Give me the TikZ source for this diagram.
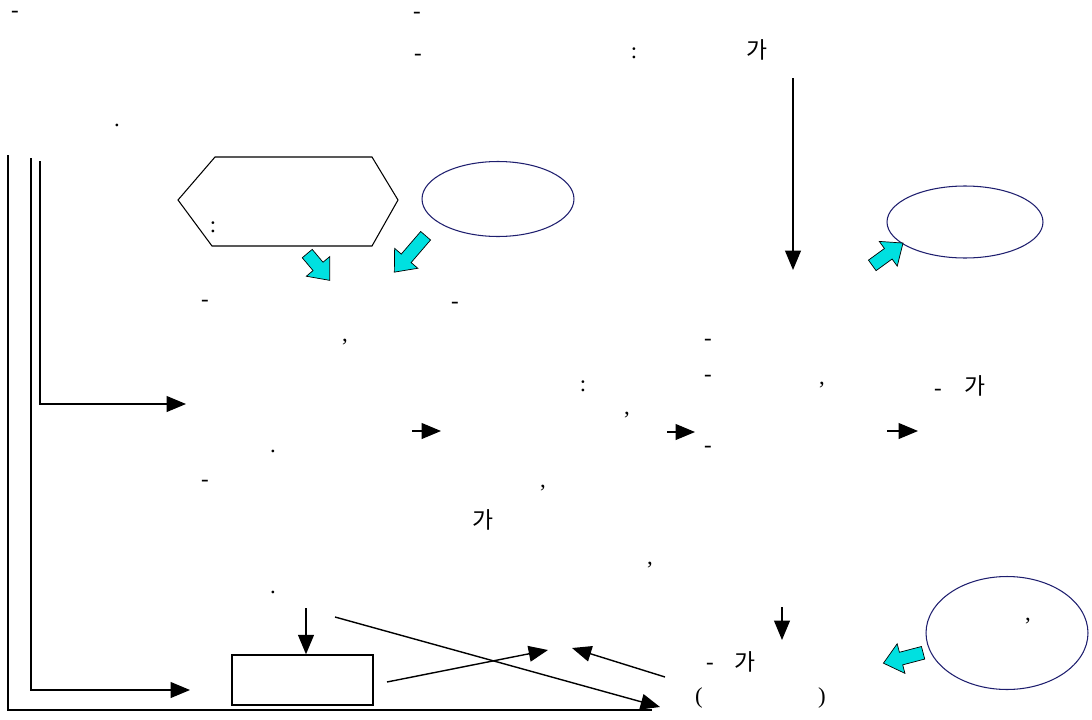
\documentclass[tikz,border=0pt]{standalone}
\usepackage{fontspec}
\setmainfont{Liberation Serif}
\newfontfamily\krfont{Noto Sans CJK KR}
\usetikzlibrary{arrows.meta,shapes.geometric,shapes.arrows,positioning,calc}
\definecolor{turq}{RGB}{0,224,224}
\definecolor{navy}{RGB}{30,30,110}

\begin{document}
\begin{tikzpicture}[x=0.02cm,y=-0.02cm,line width=0.8pt,
  txt/.style={font=\fontsize{13}{15}\selectfont,inner sep=0pt},
  kr/.style={font=\krfont\fontsize{13}{15}\selectfont,inner sep=0pt},
  arr/.style={-{Triangle[length=11pt,width=9pt]}},
  bubble/.style={ellipse,draw=navy,line width=0.6pt,inner sep=0pt},
  fatarrow/.style={single arrow,draw=black,fill=turq,line width=0.4pt,inner xsep=0pt,inner ysep=3.5pt,single arrow head extend=5pt,single arrow tip angle=80}]
\useasboundingbox (0,0) rectangle (1092,720);
% Top text marks
\node[txt] (d1) at (15,14) {-};
\node[txt] (d2) at (417,15) {-};
\node[txt] (d3) at (418,57) {-};
\node[txt] (c1) at (634,53) {:};
\node[kr] (k1) at (757,50) {가};
\node[txt] (p1) at (117,125) {.};
% Hexagon and bubbles
\draw[line width=0.6pt] (178,200) -- (215,157) -- (372,157) -- (398,200) -- (372,246) -- (212,246) -- cycle;
\node[txt] (c2) at (213,227) {:};
\node[bubble,minimum width=3.04cm,minimum height=1.5cm] (ell1) at (498,199) {};
\node[bubble,minimum width=3.12cm,minimum height=1.44cm] (ell2) at (965,222) {};
\node[bubble,minimum width=3.24cm,minimum height=2.26cm] (ell3) at (1007,633) {};
% Cyan block arrows
\node[fatarrow,rotate=-50,minimum height=0.7cm] (fa1) at (316,264) {};
\node[fatarrow,rotate=-130.7,minimum height=0.96cm] (fa2) at (412.5,251) {};
\node[fatarrow,rotate=36,minimum height=0.76cm] (fa3) at (884.5,256.5) {};
\node[fatarrow,rotate=194.7,minimum height=0.82cm] (fa4) at (907,657) {};
% Long down arrow
\coordinate (vtop) at (793,78);
\coordinate (vbot) at (793,270);
\draw[arr] (vtop) -- (vbot);
% Middle text marks
\node[txt] (d4) at (205,303) {-};
\node[txt] (d5) at (455,305) {-};
\node[txt] (m1) at (345,342) {,};
\node[txt] (d6) at (708,342) {-};
\node[txt] (c3) at (583,386) {:};
\node[txt] (d7) at (708,378) {-};
\node[txt] (m2) at (822,385) {,};
\node[txt] (d8) at (938,392) {-};
\node[kr] (k2) at (975,386) {가};
\node[txt] (m3) at (627,415) {,};
\node[txt] (p2) at (273,451) {.};
\node[txt] (d9) at (708,449) {-};
\node[txt] (d10) at (205,483) {-};
\node[txt] (m4) at (543,488) {,};
\node[kr] (k3) at (483,520) {가};
\node[txt] (m5) at (650,565) {,};
\node[txt] (p3) at (273,592) {.};
\node[txt] (m6) at (1028,621) {,};
\node[txt] (d11) at (710,666) {-};
\node[kr] (k4) at (745,662) {가};
\node[txt] (o1) at (699,698) {(};
\node[txt] (o2) at (822,698) {)};
% Short step arrows
\foreach \xa/\xb/\yy in {412/441/431,667/695/432,887/918/431} {
  \coordinate (sa\xa) at (\xa,\yy);
  \coordinate (sb\xa) at (\xb,\yy);
  \draw[arr] (sa\xa) -- (sb\xa);
}
% Left bracket lines
\coordinate (l1t) at (8,155);
\coordinate (l2t) at (31,158);
\coordinate (l3t) at (40,161);
\coordinate (l1e) at (652,710);
\coordinate (l2e) at (190,690);
\coordinate (l3e) at (186,404);
\draw (l1t) |- (l1e);
\draw[arr] (l2t) |- (l2e);
\draw[arr] (l3t) |- (l3e);
% Bottom box and crossing arrows
\node[draw,minimum width=2.82cm,minimum height=1cm,inner sep=0pt] (box) at (302.5,680) {};
\coordinate (intop) at (306,608);
\draw[arr] (intop) -- (intop |- box.north);
\coordinate (outa) at (387,682);
\coordinate (outb) at (548,650);
\draw[arr] (outa) -- (outb);
\coordinate (diaa) at (335,617);
\coordinate (diab) at (660,707);
\draw[arr] (diaa) -- (diab);
\coordinate (back) at (665,677);
\coordinate (backb) at (572,648);
\draw[arr] (back) -- (backb);
\coordinate (sdt) at (782,607);
\coordinate (sdb) at (782,640);
\draw[arr] (sdt) -- (sdb);
\end{tikzpicture}
\end{document}
